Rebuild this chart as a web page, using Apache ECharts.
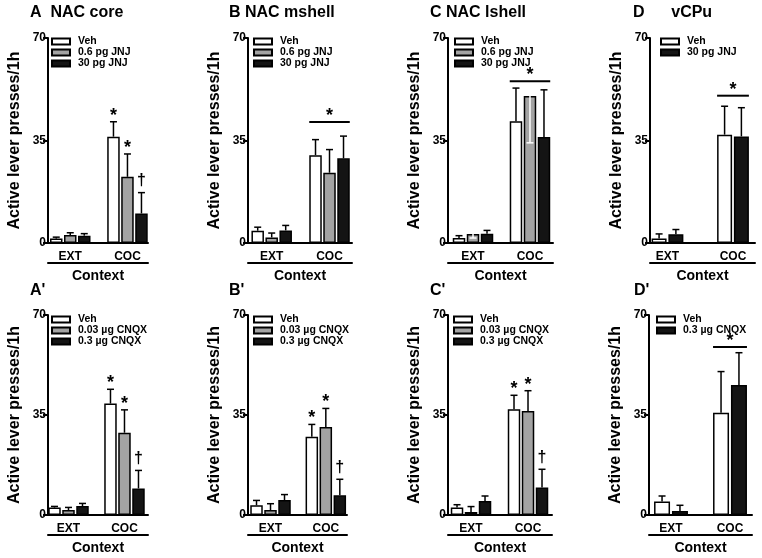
<!DOCTYPE html>
<html><head><meta charset="utf-8">
<script src="https://cdn.jsdelivr.net/npm/echarts@6/dist/echarts.min.js"></script>
<style>html,body{margin:0;padding:0;background:#fff}#c{width:762px;height:558px}</style>
</head><body><div id="c"></div>
<script>
// ---------- DATA ----------
const contexts = ['EXT', 'COC'];
const yTicks = [0, 35, 70];

const jnjGroups3 = ['Veh', '0.6 pg JNJ', '30 pg JNJ'];
const jnjGroups2 = ['Veh', '30 pg JNJ'];
const cnqxGroups3 = ['Veh', '0.03 µg CNQX', '0.3 µg CNQX'];
const cnqxGroups2 = ['Veh', '0.3 µg CNQX'];

// means per group: [EXT, COC]; sem per group: [EXT, COC]
const coreMean = [[1.5, 36.3], [2.7, 22.6], [2.5, 10.1]];
const coreSem = [[0.5, 5.1], [0.8, 7.8], [0.7, 7.1]];
const coreMarks = [['', '*'], ['', '*'], ['', '†']];

const mshellMean = [[4.2, 30.0], [1.9, 24.0], [4.3, 28.9]];
const mshellSem = [[1.2, 5.3], [1.5, 7.9], [1.7, 7.6]];
const mshellBracket = 41.3;

const lshellMean = [[1.7, 41.6], [3.1, 50.2], [3.2, 36.2]];
const lshellSem = [[0.8, 11.3], [1.4, 16.0], [1.1, 16.1]];
const lshellBracket = 55.2;

const vcpuMean = [[1.5, 37.0], [3.0, 36.4]];
const vcpuSem = [[1.6, 9.7], [1.6, 9.8]];
const vcpuBracket = 50.3;

const coreCnqxMean = [[2.6, 39.0], [1.75, 28.8], [3.15, 9.3]];
const coreCnqxSem = [[0.4, 5.0], [0.9, 8.0], [0.9, 6.3]];
const coreCnqxMarks = [['', '*'], ['', '*'], ['', '†']];

const mshellCnqxMean = [[3.4, 27.4], [1.75, 30.8], [5.25, 6.9]];
const mshellCnqxSem = [[1.7, 4.3], [2.2, 6.5], [1.9, 5.6]];
const mshellCnqxMarks = [['', '*'], ['', '*'], ['', '†']];

const lshellCnqxMean = [[2.6, 37.0], [1.05, 36.4], [4.9, 9.6]];
const lshellCnqxSem = [[1.0, 4.9], [1.9, 7.1], [1.75, 6.4]];
const lshellCnqxMarks = [['', '*'], ['', '*'], ['', '†']];

const vcpuCnqxMean = [[4.7, 35.8], [1.4, 45.5]];
const vcpuCnqxSem = [[1.95, 14.4], [2.0, 11.3]];
const vcpuCnqxBracket = 58.8;

// ---------- LAYOUT / STYLE ----------
const FONT = '"Liberation Sans", Arial, sans-serif';
const fill3 = ['#ffffff', '#a3a3a3', '#141414'];
const fill2 = ['#ffffff', '#141414'];

const panels = [
  {title: 'A  NAC core', tx: 30, ty: 5, groups: jnjGroups3, mean: coreMean, sem: coreSem, marks: coreMarks,
   grid: [48, 38, 100, 205], xr: [-0.389, 1.359], lg: [51, 36], bw: 12.5},
  {title: 'B NAC mshell', tx: 229, ty: 5, groups: jnjGroups3, mean: mshellMean, sem: mshellSem, bracket: mshellBracket,
   grid: [248, 38, 104, 205], xr: [-0.41, 1.389], lg: [253, 36], bw: 12.5},
  {title: 'C NAC lshell', tx: 430, ty: 5, groups: jnjGroups3, mean: lshellMean, sem: lshellSem, bracket: lshellBracket,
   down: [[false, false], [true, true], [false, false]],
   grid: [448, 38, 105, 205], xr: [-0.439, 1.404], lg: [454, 36], bw: 12.5},
  {title: 'D      vCPu', tx: 633, ty: 5, groups: jnjGroups2, mean: vcpuMean, sem: vcpuSem, bracket: vcpuBracket,
   grid: [650, 38, 105, 205], xr: [-0.267, 1.336], lg: [660, 36], bw: 15},
  {title: "A'", tx: 30, ty: 283, groups: cnqxGroups3, mean: coreCnqxMean, sem: coreCnqxSem, marks: coreCnqxMarks,
   grid: [48, 315, 100, 200], xr: [-0.366, 1.42], lg: [51, 314], bw: 12.5},
  {title: "B'", tx: 229, ty: 283, groups: cnqxGroups3, mean: mshellCnqxMean, sem: mshellCnqxSem, marks: mshellCnqxMarks,
   grid: [248, 315, 99, 200], xr: [-0.407, 1.383], lg: [253, 314], bw: 12.5},
  {title: "C'", tx: 430, ty: 283, groups: cnqxGroups3, mean: lshellCnqxMean, sem: lshellCnqxSem, marks: lshellCnqxMarks,
   grid: [448, 315, 104, 200], xr: [-0.404, 1.421], lg: [453, 314], bw: 12.5},
  {title: "D'", tx: 634, ty: 283, groups: cnqxGroups2, mean: vcpuCnqxMean, sem: vcpuCnqxSem, bracket: vcpuCnqxBracket,
   grid: [649, 315, 103, 200], xr: [-0.373, 1.373], lg: [656, 314], bw: 16}
];
const GAP_RATIO = 0.12;

const option = {
  animation: false,
  backgroundColor: '#fff',
  textStyle: {fontFamily: FONT, color: '#000'},
  title: [], grid: [], xAxis: [], yAxis: [], legend: [], series: []
};

panels.forEach((p, k) => {
  const n = p.groups.length;
  const fills = n === 3 ? fill3 : fill2;
  option.title.push({text: p.title, left: p.tx, top: p.ty, padding: 0,
    textStyle: {fontSize: 16, fontWeight: 'bold', color: '#000', fontFamily: FONT}});
  option.grid.push({left: p.grid[0], top: p.grid[1], width: p.grid[2], height: p.grid[3]});
  const axisLine = {show: true, onZero: false, lineStyle: {color: '#000', width: 2}};
  option.xAxis.push({type: 'value', gridIndex: k, min: p.xr[0], max: p.xr[1],
    axisLine: axisLine, axisTick: {show: false}, splitLine: {show: false},
    axisLabel: {customValues: [0, 1], formatter: v => contexts[Math.round(v)] || '',
      fontSize: 12, fontWeight: 'bold', color: '#000', margin: 8, fontFamily: FONT}});
  option.xAxis.push({type: 'value', gridIndex: k, min: p.xr[0], max: p.xr[1], position: 'bottom', offset: 20,
    axisLine: axisLine, axisTick: {show: false}, splitLine: {show: false}, axisLabel: {show: false},
    name: 'Context', nameLocation: 'middle', nameGap: 6,
    nameTextStyle: {fontSize: 14, fontWeight: 'bold', color: '#000', fontFamily: FONT}});
  option.yAxis.push({type: 'value', gridIndex: k, min: yTicks[0], max: yTicks[yTicks.length - 1], interval: yTicks[1] - yTicks[0],
    axisLine: axisLine, axisTick: {show: true, length: 5, lineStyle: {color: '#000', width: 2}},
    splitLine: {show: false},
    axisLabel: {fontSize: 12, fontWeight: 'bold', color: '#000', margin: 2, fontFamily: FONT},
    name: 'Active lever presses/1h', nameLocation: 'middle', nameGap: 25,
    nameTextStyle: {fontSize: 16, fontWeight: 'bold', color: '#000', fontFamily: FONT}});
  option.legend.push({orient: 'vertical', left: p.lg[0], top: p.lg[1], padding: 0,
    itemWidth: 18, itemHeight: 6, itemGap: 0, selectedMode: false, icon: 'rect', data: p.groups,
    textStyle: {fontSize: 10.5, fontWeight: 'bold', color: '#000', lineHeight: 10, padding: [0, 0, 0, 3], fontFamily: FONT}});

  p.groups.forEach((g, gi) => {
    option.series.push({type: 'bar', name: g, xAxisIndex: 2 * k, yAxisIndex: k,
      data: contexts.map((c, ci) => [ci, p.mean[gi][ci]]),
      barWidth: p.bw, barGap: (GAP_RATIO * 100) + '%',
      itemStyle: {color: fills[gi], borderColor: '#000', borderWidth: 1.5},
      emphasis: {disabled: true}, silent: true});
  });

  const items = [];
  p.groups.forEach((g, gi) => contexts.forEach((c, ci) => {
    items.push({ci: ci, gi: gi, mean: p.mean[gi][ci], sem: p.sem[gi][ci],
      down: p.down ? p.down[gi][ci] : false, mark: p.marks ? p.marks[gi][ci] : ''});
  }));
  const step = p.bw * (1 + GAP_RATIO);
  option.series.push({type: 'custom', xAxisIndex: 2 * k, yAxisIndex: k, silent: true, z: 5,
    data: items.map(it => [it.ci, it.mean]),
    renderItem: function (params, api) {
      const it = items[params.dataIndex];
      const base = api.coord([it.ci, it.mean]);
      const x = base[0] + (it.gi - (n - 1) / 2) * step;
      const y0 = base[1];
      const y1 = api.coord([it.ci, it.down ? it.mean - it.sem : it.mean + it.sem])[1];
      const col = it.down ? '#fff' : '#000';
      const ch = [
        {type: 'line', shape: {x1: x, y1: y0, x2: x, y2: y1}, style: {stroke: col, lineWidth: 1.5}},
        {type: 'line', shape: {x1: x - 3.5, y1: y1, x2: x + 3.5, y2: y1}, style: {stroke: col, lineWidth: 1.5}}
      ];
      if (it.mark) {
        const star = it.mark === '*';
        ch.push({type: 'text', style: {text: it.mark, x: x, y: y1 - (star ? 15 : 20), align: 'center', verticalAlign: 'top',
          font: 'bold ' + (star ? 18 : 16) + 'px ' + FONT, fill: '#000'}});
      }
      return {type: 'group', children: ch};
    }});

  if (p.bracket != null) {
    const half = (n * p.bw + (n - 1) * p.bw * GAP_RATIO) / 2;
    option.series.push({type: 'custom', xAxisIndex: 2 * k, yAxisIndex: k, silent: true, z: 5,
      data: [[1, p.bracket]],
      renderItem: function (params, api) {
        const c = api.coord([api.value(0), api.value(1)]);
        return {type: 'group', children: [
          {type: 'line', shape: {x1: c[0] - half, y1: c[1], x2: c[0] + half, y2: c[1]}, style: {stroke: '#000', lineWidth: 2}},
          {type: 'text', style: {text: '*', x: c[0], y: c[1] - 15, align: 'center', verticalAlign: 'top',
            font: 'bold 18px ' + FONT, fill: '#000'}}
        ]};
      }});
  }
});

const chart = echarts.init(document.getElementById('c'), null, {renderer: 'canvas'});
chart.setOption(option);
</script>
</body></html>
